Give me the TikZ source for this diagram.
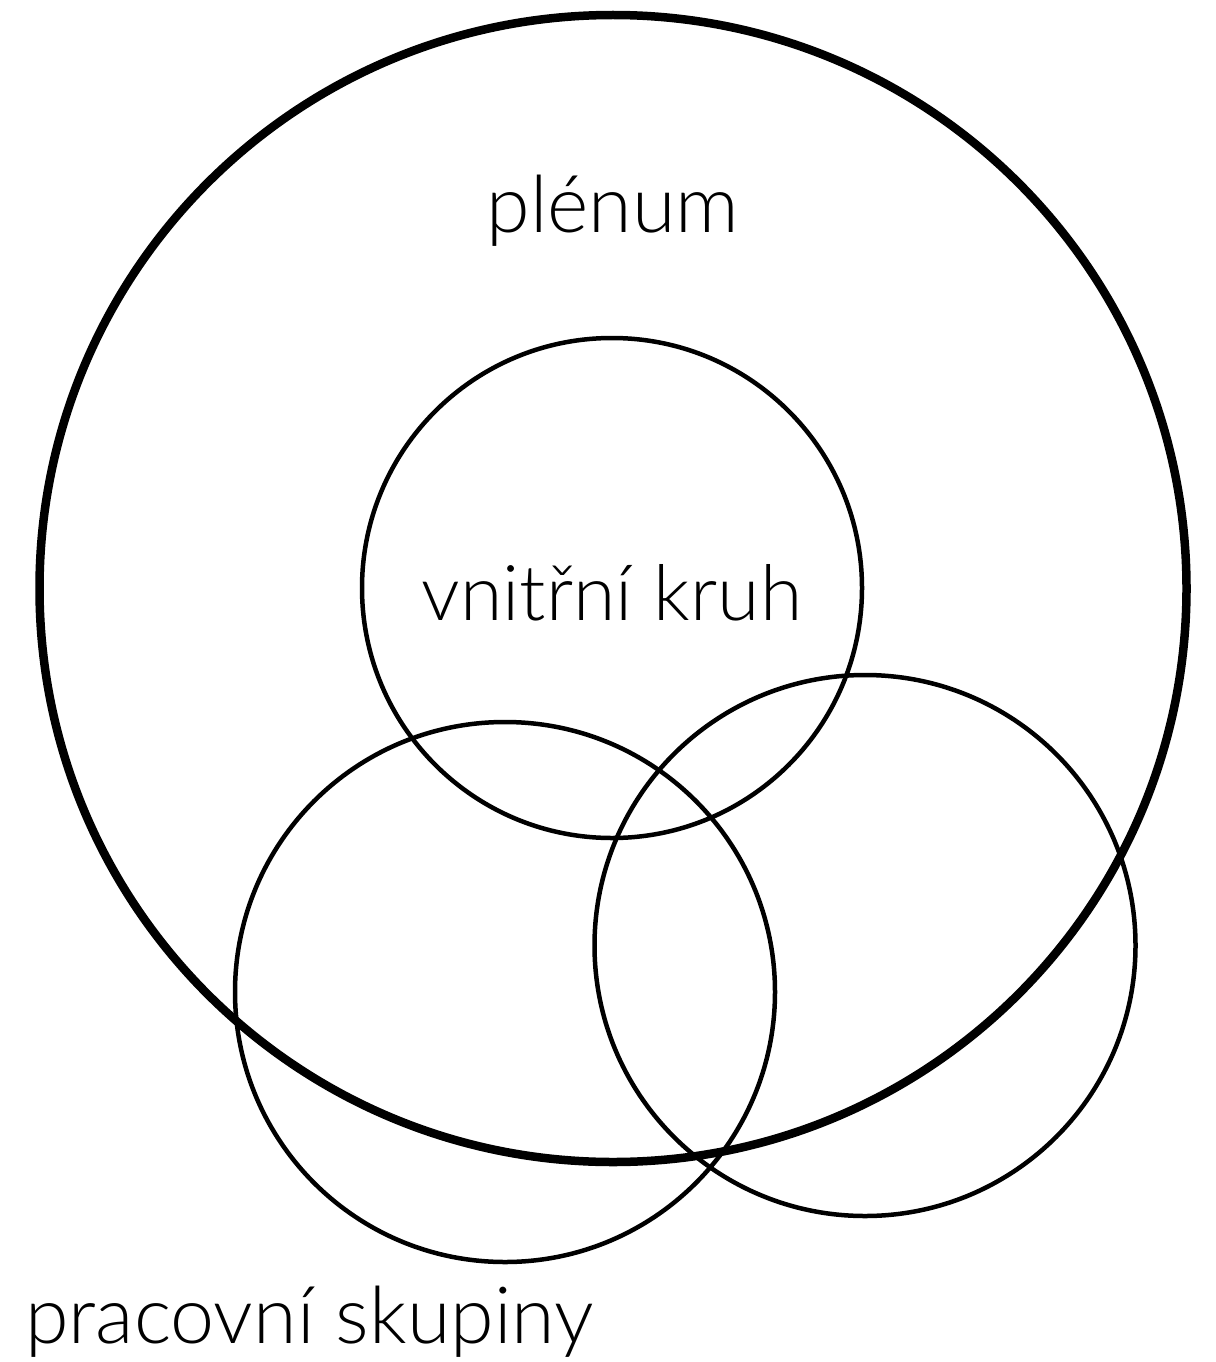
\documentclass[tikz,border=0pt]{standalone}
\usepackage{fontspec}
\setmainfont{Lato Light}
\begin{document}
\begin{tikzpicture}[x=1pt,y=-1pt,
  bigring/.style={draw=black,line width=8.5pt},
  ring/.style={draw=black,line width=4.5pt},
  lbl/.style={inner sep=0pt,anchor=base,font=\fontsize{79}{81}\selectfont}]
\useasboundingbox (0,0) rectangle (1215,1362);
\draw[bigring] (613,588.5) circle[radius=573.5];
\draw[ring] (612,588) circle[radius=250];
\draw[ring] (505,992) circle[radius=270];
\draw[ring] (865,945.5) circle[radius=270.5];
\node[lbl] (plenum) at (613,232) {plénum};
\node[lbl,font=\fontsize{77}{79}\selectfont] (vk) at (612,620) {vnitřní kruh};
\node[lbl,anchor=base west] (ps) at (25,1343) {pracovní skupiny};
\end{tikzpicture}
\end{document}
